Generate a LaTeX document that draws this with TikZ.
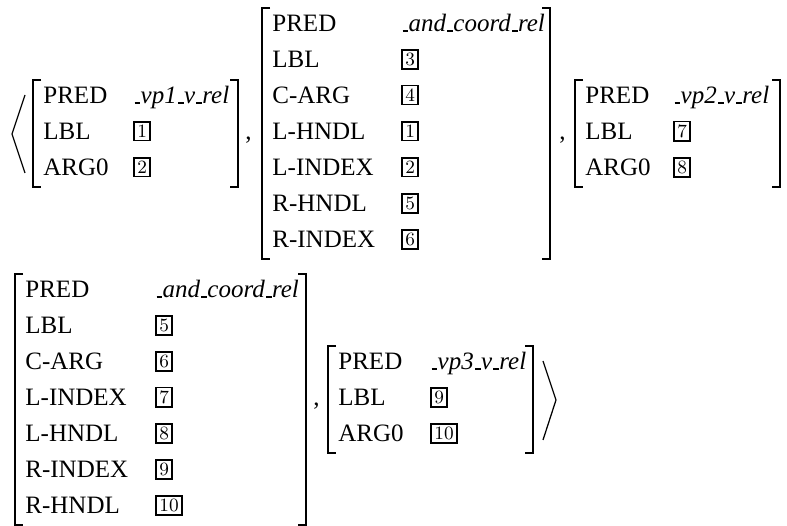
\documentclass[tikz,border=0pt,12pt]{standalone}
\usepackage{fontspec}
\newfontfamily\timesfont{Liberation Serif}
\newcommand{\usc}{\kern.05em\vbox{\hrule width.22em height.75pt}\kern.02em}
\newcommand{\boxnum}[1]{\raisebox{1.3pt}{\fboxsep=1.1pt\fboxrule=0.8pt\fbox{\normalfont\fontsize{9}{10}\selectfont #1}}}
\newcommand{\relname}[3]{\textit{\usc #1\usc #2\usc #3}}
\tikzset{
  brk/.style={line width=0.7pt},
  angl/.style={line width=0.6pt},
  feat/.style={anchor=base west, inner sep=0pt, font=\timesfont},
}
% left and right bracket of one matrix: x left, x right, y top, y bottom
\newcommand{\avmbrackets}[4]{%
  \draw[brk] ({#1+8},#3) -| (#1,#4) -- ({#1+8},#4);
  \draw[brk] ({#2-8},#3) -| (#2,#4) -- ({#2-8},#4);
}

\begin{document}
\begin{tikzpicture}[x=0.48pt, y=-0.48pt]
  \useasboundingbox (0,0) rectangle (787,526);
  % first line
  \draw[angl] (25,95) -- (12,134) -- (25,173);
  \foreach \lab/\val [count=\i] in {PRED/\relname{vp1}{v}{rel}, LBL/\boxnum{1}, ARG0/\boxnum{2}}{
    \node[feat] (a1-\i) at (43,{104+36*(\i-1)}) {\lab};
    \node[feat] (v1-\i) at (133,{104+36*(\i-1)}) {\val};
  }
  \avmbrackets{33}{238}{80}{187}
  \node[feat] (c1) at (245,140) {,};
  \foreach \lab/\val [count=\i] in {PRED/\relname{and}{coord}{rel}, LBL/\boxnum{3}, C-ARG/\boxnum{4},
      L-HNDL/\boxnum{1}, L-INDEX/\boxnum{2}, R-HNDL/\boxnum{5}, R-INDEX/\boxnum{6}}{
    \node[feat] (a2-\i) at (272,{32+36*(\i-1)}) {\lab};
    \node[feat] (v2-\i) at (401,{32+36*(\i-1)}) {\val};
  }
  \avmbrackets{262}{550}{8}{259}
  \node[feat] (c2) at (559,140) {,};
  \foreach \lab/\val [count=\i] in {PRED/\relname{vp2}{v}{rel}, LBL/\boxnum{7}, ARG0/\boxnum{8}}{
    \node[feat] (a3-\i) at (585,{104+36*(\i-1)}) {\lab};
    \node[feat] (v3-\i) at (673,{104+36*(\i-1)}) {\val};
  }
  \avmbrackets{575}{780}{80}{187}
  % second line
  \foreach \lab/\val [count=\i] in {PRED/\relname{and}{coord}{rel}, LBL/\boxnum{5}, C-ARG/\boxnum{6},
      L-INDEX/\boxnum{7}, L-HNDL/\boxnum{8}, R-INDEX/\boxnum{9}, R-HNDL/\boxnum{10}}{
    \node[feat] (a4-\i) at (25,{298+36*(\i-1)}) {\lab};
    \node[feat] (v4-\i) at (155,{298+36*(\i-1)}) {\val};
  }
  \avmbrackets{15}{306}{274}{525}
  \node[feat] (c3) at (313,406) {,};
  \foreach \lab/\val [count=\i] in {PRED/\relname{vp3}{v}{rel}, LBL/\boxnum{9}, ARG0/\boxnum{10}}{
    \node[feat] (a5-\i) at (338,{370+36*(\i-1)}) {\lab};
    \node[feat] (v5-\i) at (430,{370+36*(\i-1)}) {\val};
  }
  \avmbrackets{328}{533}{346}{453}
  \draw[angl] (543,361) -- (556,400) -- (543,440);
\end{tikzpicture}
\end{document}
